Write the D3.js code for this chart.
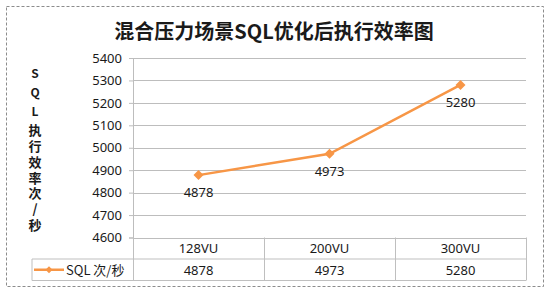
<!DOCTYPE html>
<html>
<head>
<meta charset="utf-8">
<script src="https://cdn.jsdelivr.net/npm/d3@7"></script>
<style>
  body { margin: 0; background: #fff; }
  svg { display: block; font-family: "Noto Sans CJK SC", "Noto Sans", sans-serif; }
</style>
</head>
<body>
<div id="chart"></div>
<script>
// ---- data ----
const categories = ["128VU", "200VU", "300VU"];
const values = [4878, 4973, 5280];
const seriesName = "SQL 次/秒";
const yTicks = [4600, 4700, 4800, 4900, 5000, 5100, 5200, 5300, 5400];
const yLabelParts = ["SQL", "执行效率次/秒"];
const title = "混合压力场景SQL优化后执行效率图";

const COLOR = {
  line: "#f79646",
  grid: "#bdbdbd",
  table: "#bfbfbf",
  text: "#1a1a1a",
  border: "#8c8c8c",
};

const width = 548, height = 292;
const plot = { left: 133, right: 526, top: 58, bottom: 237.5 };
const tableRow = 21.5;
const legendLeft = 32;

// a square diamond, like the spreadsheet marker
const diamond = (r) => `M0,${-r}L${r},0L0,${r}L${-r},0Z`;

const svg = d3.select("#chart").append("svg")
  .attr("width", width).attr("height", height);

// outer dashed frame
svg.append("rect")
  .attr("x", 6.5).attr("y", 6.5).attr("width", 537).attr("height", 280)
  .attr("fill", "none").attr("stroke", COLOR.border)
  .attr("stroke-dasharray", "3,2");

// title
svg.append("text")
  .attr("x", 274).attr("y", 39)
  .attr("text-anchor", "middle")
  .attr("font-size", 20).attr("font-weight", 700)
  .attr("fill", COLOR.text)
  .text(title);

// ---- scales ----
const x = d3.scaleBand().domain(categories).range([plot.left, plot.right]);
const y = d3.scaleLinear().domain([4600, 5400]).range([plot.bottom, plot.top]);

// ---- y axis with gridlines ----
svg.append("g")
  .attr("transform", `translate(${plot.left},0)`)
  .call(d3.axisLeft(y).tickValues(yTicks).tickFormat(d3.format("d"))
    .tickSize(4).tickPadding(7))
  .call((g) => g.select(".domain").attr("stroke", COLOR.grid))
  .call((g) => g.selectAll(".tick line").attr("stroke", COLOR.grid))
  .call((g) => g.selectAll(".tick text")
    .attr("font-size", 13).attr("fill", COLOR.text)
    .attr("font-family", "'Noto Sans', sans-serif"));

svg.append("g")
  .selectAll("line")
  .data(yTicks)
  .join("line")
  .attr("x1", plot.left).attr("x2", plot.right)
  .attr("y1", (d) => Math.round(y(d)) + 0.5)
  .attr("y2", (d) => Math.round(y(d)) + 0.5)
  .attr("stroke", COLOR.grid);

// y axis title: one vertical text, upright characters
svg.append("text")
  .attr("x", 35).attr("y", 67)
  .attr("writing-mode", "vertical-rl")
  .style("text-orientation", "upright")
  .attr("font-weight", 700)
  .attr("fill", COLOR.text)
  .selectAll("tspan")
  .data(yLabelParts)
  .join("tspan")
  .attr("font-size", (d, i) => (i === 0 ? 12 : 13))
  .attr("letter-spacing", (d, i) => (i === 0 ? 7 : 2.7))
  .text((d) => d);

// ---- data table under the plot ----
const table = svg.append("g").attr("stroke", COLOR.table).attr("fill", "none");
const rowY = [plot.bottom, plot.bottom + tableRow, plot.bottom + tableRow * 2];
table.append("line")
  .attr("x1", legendLeft).attr("x2", plot.right)
  .attr("y1", rowY[1]).attr("y2", rowY[1]);
table.append("line")
  .attr("x1", legendLeft).attr("x2", plot.right)
  .attr("y1", rowY[2]).attr("y2", rowY[2]);
table.append("line")
  .attr("x1", legendLeft).attr("x2", legendLeft)
  .attr("y1", rowY[1]).attr("y2", rowY[2]);
table.selectAll("line.col")
  .data([...categories.map((c) => x(c)), plot.right])
  .join("line")
  .attr("class", "col")
  .attr("x1", (d) => Math.round(d) + 0.5).attr("x2", (d) => Math.round(d) + 0.5)
  .attr("y1", rowY[0]).attr("y2", rowY[2]);

svg.append("g")
  .selectAll("text")
  .data(categories)
  .join("text")
  .attr("x", (d) => x(d) + x.bandwidth() / 2)
  .attr("y", rowY[0] + tableRow / 2 + 5)
  .attr("text-anchor", "middle")
  .attr("font-size", 13)
  .attr("font-family", "'Noto Sans', sans-serif")
  .attr("fill", COLOR.text)
  .text((d) => d);

svg.append("g")
  .selectAll("text")
  .data(values)
  .join("text")
  .attr("x", (d, i) => x(categories[i]) + x.bandwidth() / 2)
  .attr("y", rowY[1] + tableRow / 2 + 5)
  .attr("text-anchor", "middle")
  .attr("font-size", 13)
  .attr("font-family", "'Noto Sans', sans-serif")
  .attr("fill", COLOR.text)
  .text((d) => d);

// legend key in the table
const keyY = rowY[1] + tableRow / 2;
svg.append("line")
  .attr("x1", 34).attr("x2", 64).attr("y1", keyY).attr("y2", keyY)
  .attr("stroke", COLOR.line).attr("stroke-width", 2.5);
svg.append("path")
  .attr("d", diamond(3.5))
  .attr("transform", `translate(49,${keyY})`)
  .attr("fill", COLOR.line);
svg.append("text")
  .attr("x", 66).attr("y", keyY + 5)
  .attr("font-size", 13)
  .attr("fill", COLOR.text)
  .text(seriesName);

// ---- the series ----
const pts = values.map((v, i) => [x(categories[i]) + x.bandwidth() / 2, y(v)]);
svg.append("path")
  .attr("d", d3.line()(pts))
  .attr("fill", "none")
  .attr("stroke", COLOR.line)
  .attr("stroke-width", 2.5);

svg.append("g")
  .selectAll("path")
  .data(pts)
  .join("path")
  .attr("d", diamond(5))
  .attr("transform", (p) => `translate(${p[0]},${p[1]})`)
  .attr("fill", COLOR.line);

svg.append("g")
  .selectAll("text")
  .data(values)
  .join("text")
  .attr("x", (d, i) => pts[i][0])
  .attr("y", (d, i) => pts[i][1] + 22)
  .attr("text-anchor", "middle")
  .attr("font-size", 13)
  .attr("font-family", "'Noto Sans', sans-serif")
  .attr("fill", COLOR.text)
  .text((d) => d);
</script>
</body>
</html>
